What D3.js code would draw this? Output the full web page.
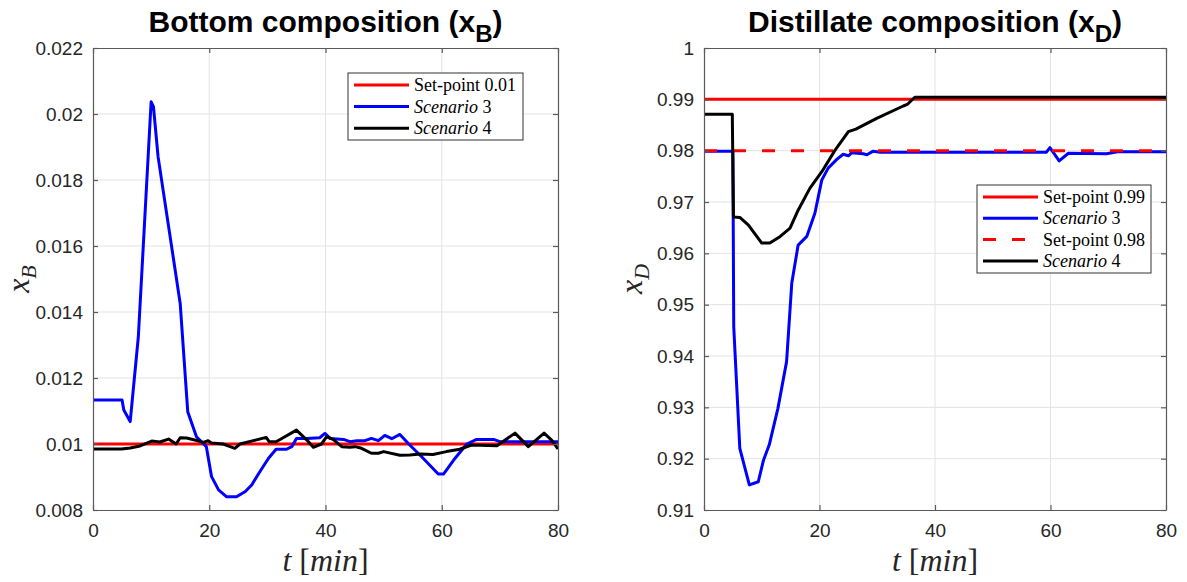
<!DOCTYPE html>
<html>
<head>
<meta charset="utf-8">
<script src="https://cdn.jsdelivr.net/npm/d3@7"></script>
<style>
  body { margin: 0; background: #fff; }
  svg { display: block; }
</style>
</head>
<body>
<svg id="fig" width="1187" height="582"></svg>
<script>
// ---- tick values ----
const timeTicks = [0, 20, 40, 60, 80];
const xbTicks = [0.008, 0.01, 0.012, 0.014, 0.016, 0.018, 0.02, 0.022];
const xdTicks = [0.91, 0.92, 0.93, 0.94, 0.95, 0.96, 0.97, 0.98, 0.99, 1];

// ---- bottom composition x_B ----
const xbSetpoint = 0.01;
const xbS3Time = [0, 5, 5.3, 6.4, 7.8, 10, 10.4, 11.2, 15, 16.3, 17.8, 19.5, 20.4, 21.6, 23, 24.7, 26.2, 27.3, 28.7, 30.2, 31.5, 33.3, 34.2, 35, 36.8, 39, 39.9, 40.8, 43.1, 44.2, 45.4, 46.8, 47.9, 49.1, 50.2, 51.4, 52.8, 54.5, 56.5, 59.4, 60.3, 62.3, 64.3, 66, 68.9, 70, 80];
const xbS3 = [0.01133, 0.01133, 0.01103, 0.01068, 0.01325, 0.02037, 0.02022, 0.0187, 0.01426, 0.01098, 0.01022, 0.00992, 0.00901, 0.00861, 0.0084, 0.0084, 0.00856, 0.00876, 0.00916, 0.00957, 0.00984, 0.00984, 0.00992, 0.01017, 0.01017, 0.01019, 0.01032, 0.01017, 0.01014, 0.01007, 0.0101, 0.0101, 0.01017, 0.0101, 0.01026, 0.01016, 0.01029, 0.00997, 0.00962, 0.00909, 0.00909, 0.00957, 0.01, 0.01014, 0.01014, 0.01007, 0.01007];
const xbS4Time = [0, 4.9, 6.4, 8.1, 10.1, 11.5, 13, 14.3, 15, 16.1, 17.5, 19, 19.8, 20.4, 22.4, 23.6, 24.4, 25.3, 29.8, 30.3, 31.5, 35, 36.8, 37.9, 39.3, 40.2, 41.3, 42.8, 44.2, 45.1, 46.2, 47.9, 49.1, 50, 52.8, 54.5, 56.3, 58.5, 60.8, 63.1, 65.1, 69.5, 72.6, 74.9, 77.6, 78.9, 80];
const xbS4 = [0.00985, 0.00985, 0.00988, 0.00994, 0.01009, 0.01006, 0.01015, 0.01, 0.01019, 0.01018, 0.01012, 0.01005, 0.0101, 0.01003, 0.01, 0.00992, 0.00987, 0.01, 0.0102, 0.01007, 0.01007, 0.01042, 0.01012, 0.0099, 0.01, 0.01022, 0.01014, 0.00992, 0.0099, 0.00992, 0.00987, 0.00972, 0.00972, 0.00977, 0.00966, 0.00967, 0.0097, 0.00968, 0.00977, 0.00984, 0.00997, 0.00995, 0.01033, 0.00992, 0.01033, 0.01012, 0.00985];

// ---- distillate composition x_D ----
const xdSetpointHigh = 0.99;
const xdSetpointLow = 0.98;
const xdS3Time = [0, 5, 5.15, 6.2, 7.85, 9.4, 10.3, 11.3, 12.8, 14.3, 15.2, 16.3, 17.8, 19.2, 20.4, 21.5, 23, 24.1, 25, 25.6, 27.6, 28.2, 29.3, 30.5, 59.3, 59.9, 61.5, 63.1, 69.7, 71.6, 80];
const xdS3 = [0.9799, 0.9799, 0.9457, 0.9220, 0.9149, 0.9155, 0.9197, 0.9227, 0.9298, 0.9389, 0.9542, 0.9616, 0.9633, 0.9678, 0.9743, 0.9766, 0.9783, 0.9793, 0.9790, 0.9796, 0.9794, 0.9792, 0.9799, 0.9797, 0.9797, 0.9806, 0.9780, 0.9795, 0.9794, 0.9798, 0.9798];
const xdS4Time = [0, 4.9, 5.1, 6.2, 7.7, 10, 11.4, 13.2, 14.9, 16.3, 18.35, 20.4, 22.7, 25, 26.3, 29.9, 34.5, 35.2, 36.5, 80];
const xdS4 = [0.9871, 0.9871, 0.9671, 0.9670, 0.9655, 0.9620, 0.9620, 0.9633, 0.9649, 0.9684, 0.9727, 0.9759, 0.9801, 0.9837, 0.9842, 0.9863, 0.9887, 0.9890, 0.9904, 0.9904];

const zip = (ts, vs) => ts.map((t, i) => [t, vs[i]]);
const flat = v => [[0, v], [80, v]];

const svg = d3.select("#fig");
svg.append("rect").attr("width", 1187).attr("height", 582).attr("fill", "#fff");

const AX = "#5a5a5a", TXT = "#262626", GRID = "#e3e3e3";
const SANS = "'Liberation Sans', Arial, sans-serif";
const SERIF = "'Liberation Serif', 'DejaVu Serif', serif";
const fmt = v => String(+v.toFixed(3));

function panel(cfg) {
  const x = d3.scaleLinear().domain([0, 80]).range([cfg.x0, cfg.x1]);
  const y = d3.scaleLinear().domain(cfg.yDomain).range([cfg.y1, cfg.y0]);
  const g = svg.append("g");

  // grid
  g.append("g").selectAll("line").data(timeTicks.slice(1, -1)).join("line")
    .attr("x1", d => x(d)).attr("x2", d => x(d)).attr("y1", cfg.y0).attr("y2", cfg.y1)
    .attr("stroke", GRID).attr("stroke-width", 1);
  g.append("g").selectAll("line").data(cfg.yTicks.slice(1, -1)).join("line")
    .attr("y1", d => y(d)).attr("y2", d => y(d)).attr("x1", cfg.x0).attr("x2", cfg.x1)
    .attr("stroke", GRID).attr("stroke-width", 1);

  // series
  const line = d3.line().x(d => x(d[0])).y(d => y(d[1]));
  const clipId = "clip" + cfg.id;
  svg.append("clipPath").attr("id", clipId).append("rect")
    .attr("x", cfg.x0).attr("y", cfg.y0 - 2).attr("width", cfg.x1 - cfg.x0).attr("height", cfg.y1 - cfg.y0 + 4);
  const sg = g.append("g").attr("clip-path", `url(#${clipId})`);
  cfg.series.forEach(s => {
    sg.append("path").attr("d", line(s.data)).attr("fill", "none")
      .attr("stroke", s.color).attr("stroke-width", 3)
      .attr("stroke-linejoin", "round")
      .attr("stroke-dasharray", s.dash || null);
  });

  // axes (ticks point inward, box on)
  const styleAxis = a => {
    a.select(".domain").attr("stroke", AX).attr("stroke-width", 1.2);
    a.selectAll(".tick line").attr("stroke", AX).attr("stroke-width", 1.2);
    a.selectAll("text").attr("fill", TXT).attr("font-family", SANS).attr("font-size", 19);
  };
  const bottom = g.append("g").attr("transform", `translate(0,${cfg.y1})`)
    .call(d3.axisBottom(x).tickValues(timeTicks).tickSizeInner(-5).tickSizeOuter(0).tickPadding(14).tickFormat(d3.format("d")));
  styleAxis(bottom);
  const top = g.append("g").attr("transform", `translate(0,${cfg.y0})`)
    .call(d3.axisTop(x).tickValues(timeTicks).tickSizeInner(-5).tickSizeOuter(0).tickFormat(""));
  styleAxis(top);
  const left = g.append("g").attr("transform", `translate(${cfg.x0},0)`)
    .call(d3.axisLeft(y).tickValues(cfg.yTicks).tickSizeInner(-5).tickSizeOuter(0).tickPadding(10).tickFormat(fmt));
  styleAxis(left);
  const right = g.append("g").attr("transform", `translate(${cfg.x1},0)`)
    .call(d3.axisRight(y).tickValues(cfg.yTicks).tickSizeInner(-5).tickSizeOuter(0).tickFormat(""));
  styleAxis(right);

  // title
  const cx = (cfg.x0 + cfg.x1) / 2;
  const t = g.append("text").attr("x", cx).attr("y", 32).attr("text-anchor", "middle")
    .attr("font-family", SANS).attr("font-weight", "bold").attr("font-size", 30).attr("fill", "#000");
  t.append("tspan").text(cfg.title + " (x");
  t.append("tspan").attr("dy", 10).attr("font-size", 24).text(cfg.sub);
  t.append("tspan").attr("dy", -10).text(")");

  // x label
  const xl = g.append("text").attr("x", cx).attr("y", 571).attr("text-anchor", "middle")
    .attr("font-family", SERIF).attr("font-size", 32).attr("fill", TXT);
  xl.append("tspan").attr("font-style", "italic").text("t");
  xl.append("tspan").text(" [");
  xl.append("tspan").attr("font-style", "italic").text("min");
  xl.append("tspan").text("]");

  // y label
  const yl = g.append("text").attr("transform", `translate(${cfg.x0 - cfg.yLabelGap},${(cfg.y0 + cfg.y1) / 2}) rotate(-90)`)
    .attr("text-anchor", "middle").attr("font-family", SERIF).attr("font-size", 32).attr("fill", TXT)
    .attr("font-style", "italic");
  yl.append("tspan").text("x");
  yl.append("tspan").attr("dy", 7).attr("font-size", 22).text(cfg.sub);

  // legend
  const L = cfg.legend;
  const lg = g.append("g");
  lg.append("rect").attr("x", L.x).attr("y", L.y).attr("width", L.w).attr("height", L.h)
    .attr("fill", "#fff").attr("stroke", "#333").attr("stroke-width", 1);
  L.items.forEach((it, i) => {
    const yy = L.y + L.first + i * L.step;
    lg.append("line").attr("x1", L.x + 6).attr("x2", L.x + 61).attr("y1", yy).attr("y2", yy)
      .attr("stroke", it.color).attr("stroke-width", 3).attr("stroke-dasharray", it.dash || null);
    const tx = lg.append("text").attr("x", L.x + 66).attr("y", yy + 6)
      .attr("font-family", SERIF).attr("font-size", 18).attr("fill", "#000");
    if (it.italic) {
      tx.append("tspan").attr("font-style", "italic").text(it.italic);
      tx.append("tspan").text(" " + it.rest);
    } else {
      tx.text(it.label);
    }
  });
}

panel({
  id: "B", x0: 93, x1: 558, y0: 48, y1: 510,
  yDomain: [0.008, 0.022], yTicks: xbTicks,
  title: "Bottom composition", sub: "B", yLabelGap: 64,
  series: [
    { data: flat(xbSetpoint), color: "#ff0000" },
    { data: zip(xbS3Time, xbS3), color: "#0000ff" },
    { data: zip(xbS4Time, xbS4), color: "#000000" }
  ],
  legend: { x: 348, y: 73, w: 175, h: 67, first: 12, step: 21.6,
    items: [
      { color: "#ff0000", label: "Set-point 0.01" },
      { color: "#0000ff", italic: "Scenario", rest: "3" },
      { color: "#000000", italic: "Scenario", rest: "4" }
    ] }
});

panel({
  id: "D", x0: 704, x1: 1166, y0: 48, y1: 510,
  yDomain: [0.91, 1], yTicks: xdTicks,
  title: "Distillate composition", sub: "D", yLabelGap: 62,
  series: [
    { data: flat(xdSetpointHigh), color: "#ff0000" },
    { data: zip(xdS3Time, xdS3), color: "#0000ff" },
    { data: flat(xdSetpointLow), color: "#ff0000", dash: "13,16" },
    { data: zip(xdS4Time, xdS4), color: "#000000" }
  ],
  legend: { x: 977, y: 185, w: 174, h: 88, first: 12, step: 21.3,
    items: [
      { color: "#ff0000", label: "Set-point 0.99" },
      { color: "#0000ff", italic: "Scenario", rest: "3" },
      { color: "#ff0000", label: "Set-point 0.98", dash: "13,16" },
      { color: "#000000", italic: "Scenario", rest: "4" }
    ] }
});
</script>
</body>
</html>
